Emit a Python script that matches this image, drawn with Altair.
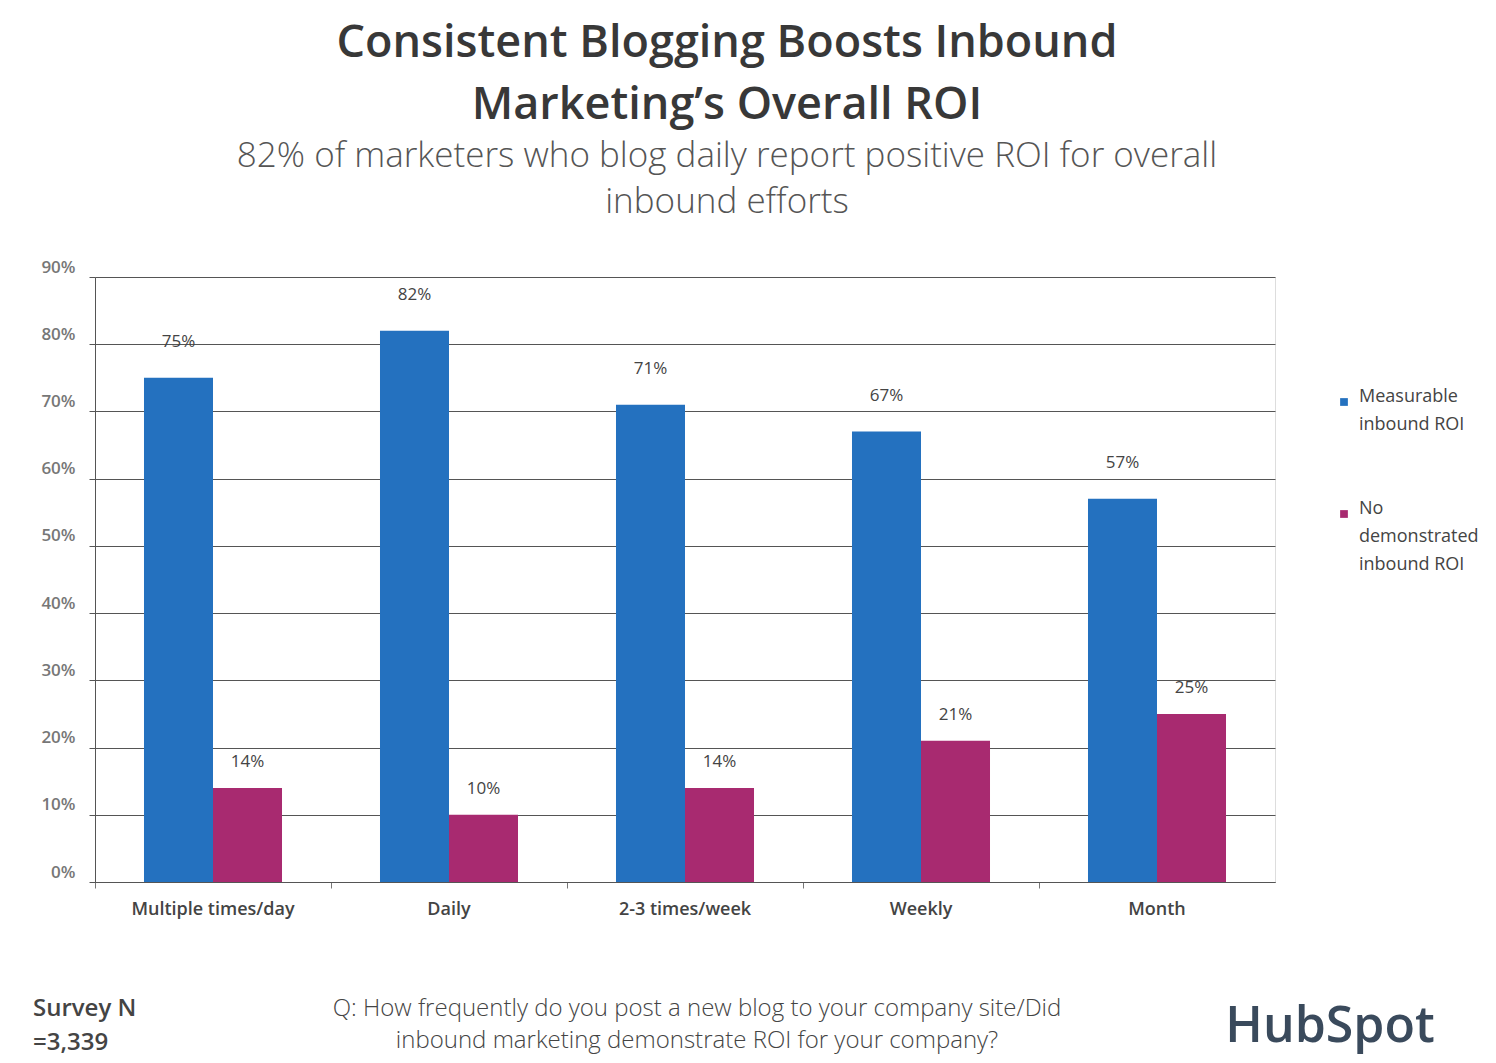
import altair as alt
import pandas as pd

categories = ["Multiple times/day", "Daily", "2-3 times/week", "Weekly", "Month"]
measurable = [75, 82, 71, 67, 57]
no_roi = [14, 10, 14, 21, 25]
series_names = ["Measurable inbound ROI", "No demonstrated inbound ROI"]
colors = ["#2471BF", "#A82A70"]
y_ticks = [0, 10, 20, 30, 40, 50, 60, 70, 80, 90]

rows = []
for c, m, n in zip(categories, measurable, no_roi):
    rows.append({"freq": c, "series": series_names[0], "value": m, "label": f"{m}%"})
    rows.append({"freq": c, "series": series_names[1], "value": n, "label": f"{n}%"})
df = pd.DataFrame(rows)

W, H = 1180, 605
FONT = "Open Sans"

x_enc = alt.X(
    "freq:N", sort=categories, title=None,
    scale=alt.Scale(paddingInner=0, paddingOuter=0),
    axis=alt.Axis(labelAngle=0, labelFont=FONT, labelFontSize=18, labelFontWeight=600,
                  labelColor="#444", labelPadding=12, tickSize=6, tickColor="#777",
                  domainColor="#555", bandPosition=0, grid=False),
)
xoff_enc = alt.XOffset("series:N", sort=series_names,
                       scale=alt.Scale(paddingOuter=0.71, paddingInner=0))
y_enc = alt.Y(
    "value:Q", title=None,
    scale=alt.Scale(domain=[0, 90], nice=False),
    axis=alt.Axis(values=y_ticks, labelExpr="datum.value + '%'", grid=True,
                  gridColor="#555", gridWidth=1, tickSize=6, tickColor="#555",
                  domainColor="#555", labelPadding=14, labelOffset=-10,
                  labelFontSize=17, labelColor="#777", labelFont=FONT,
                  labelFontWeight=600),
)

base = alt.Chart(df)

bars = base.mark_bar().encode(
    x=x_enc, xOffset=xoff_enc, y=y_enc,
    color=alt.Color(
        "series:N",
        scale=alt.Scale(domain=series_names, range=colors),
        legend=alt.Legend(
            orient="none", legendX=1240, legendY=116, title=None,
            symbolType="square", symbolSize=60, symbolStrokeWidth=0,
            labelFont=FONT, labelFontSize=18, labelColor="#444",
            labelLimit=0, rowPadding=66, labelBaseline="alphabetic", labelOffset=6,
            labelExpr="datum.label == 'Measurable inbound ROI' ? ['Measurable', 'inbound ROI'] : ['No', 'demonstrated', 'inbound ROI']",
        ),
    ),
)

txt_blue = base.transform_filter(alt.datum.series == series_names[0]).mark_text(
    font=FONT, fontSize=17, color="#444", dy=-36
).encode(x=x_enc, xOffset=xoff_enc, y=y_enc, text="label:N")

txt_mag = base.transform_filter(alt.datum.series == series_names[1]).mark_text(
    font=FONT, fontSize=17, color="#444", dy=-26
).encode(x=x_enc, xOffset=xoff_enc, y=y_enc, text="label:N")

note_df = pd.DataFrame({"k": [0]})
survey = alt.Chart(note_df).mark_text(
    text=["Survey N", "=3,339"], font=FONT, fontSize=24, fontWeight=600,
    color="#444", align="left", baseline="middle", lineHeight=34
).encode(x=alt.value(-62), y=alt.value(732))

question = alt.Chart(note_df).mark_text(
    text=["Q:  How frequently do you post a new blog to your company site/Did",
          "inbound marketing demonstrate ROI for your company?"],
    font=FONT, fontSize=24, fontWeight=300, color="#444", align="center",
    baseline="middle", lineHeight=32
).encode(x=alt.value(602), y=alt.value(732))

logo = alt.Chart(note_df).mark_text(
    text="HubSpot", font=FONT, fontSize=50, fontWeight=600,
    color="#3A4A5C", align="center", baseline="middle"
).encode(x=alt.value(1235), y=alt.value(750))

chart = alt.layer(bars, txt_blue, txt_mag, survey, question, logo).properties(
    width=W, height=H,
    title=alt.Title(
        text=["Consistent Blogging Boosts Inbound", "Marketing\u2019s Overall ROI"],
        subtitle=["82% of marketers who blog daily report positive ROI for overall",
                  "inbound efforts"],
        font=FONT, fontSize=45, fontWeight=600, color="#383838", lineHeight=62,
        subtitleFont=FONT, subtitleFontSize=35, subtitleFontWeight=300,
        subtitleColor="#555", subtitleLineHeight=46, subtitlePadding=11,
        anchor="middle", dx=42, offset=38,
    ),
    padding={"left": 87, "top": 269, "right": 212, "bottom": 180},
    autosize=alt.AutoSizeParams(type="none"),
).configure_view(stroke=None).configure(
    style={"guide-label": {"lineHeight": 28}}
)

chart.save("out.html", embed_options={"renderer": "svg", "actions": False})
